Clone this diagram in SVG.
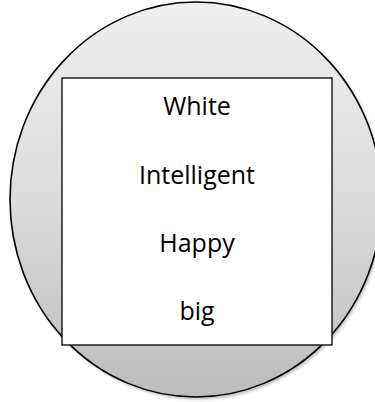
<svg xmlns="http://www.w3.org/2000/svg" width="375" height="402" viewBox="0 0 375 402">
  <defs>
    <linearGradient id="g" x1="0" y1="0" x2="0" y2="1">
      <stop offset="0" stop-color="#efefef"/>
      <stop offset="0.5" stop-color="#dcdcdc"/>
      <stop offset="1" stop-color="#bcbcbc"/>
    </linearGradient>
    <filter id="sh" x="-10%" y="-10%" width="120%" height="120%">
      <feGaussianBlur stdDeviation="1.8"/>
    </filter>
  </defs>
  <style>
    .lbl { font-family: "Open Sans", "Liberation Sans", sans-serif; font-size: 25px; fill: #000; text-anchor: middle; }
  </style>
  <g id="circle">
    <ellipse cx="198" cy="202" rx="186" ry="197.5" fill="#9a9a9a" opacity="0.6" filter="url(#sh)"/>
    <ellipse cx="196" cy="199.5" rx="186" ry="197.5" fill="url(#g)" stroke="#000" stroke-width="1.6"/>
  </g>
  <g id="box">
    <rect x="62" y="78" width="270" height="267" fill="#fff" stroke="#000" stroke-width="1.3"/>
    <text class="lbl" x="197" y="115">White</text>
    <text class="lbl" x="197" y="184">Intelligent</text>
    <text class="lbl" x="197" y="252">Happy</text>
    <text class="lbl" x="197" y="320">big</text>
  </g>
  <g id="connectors"/>
</svg>
